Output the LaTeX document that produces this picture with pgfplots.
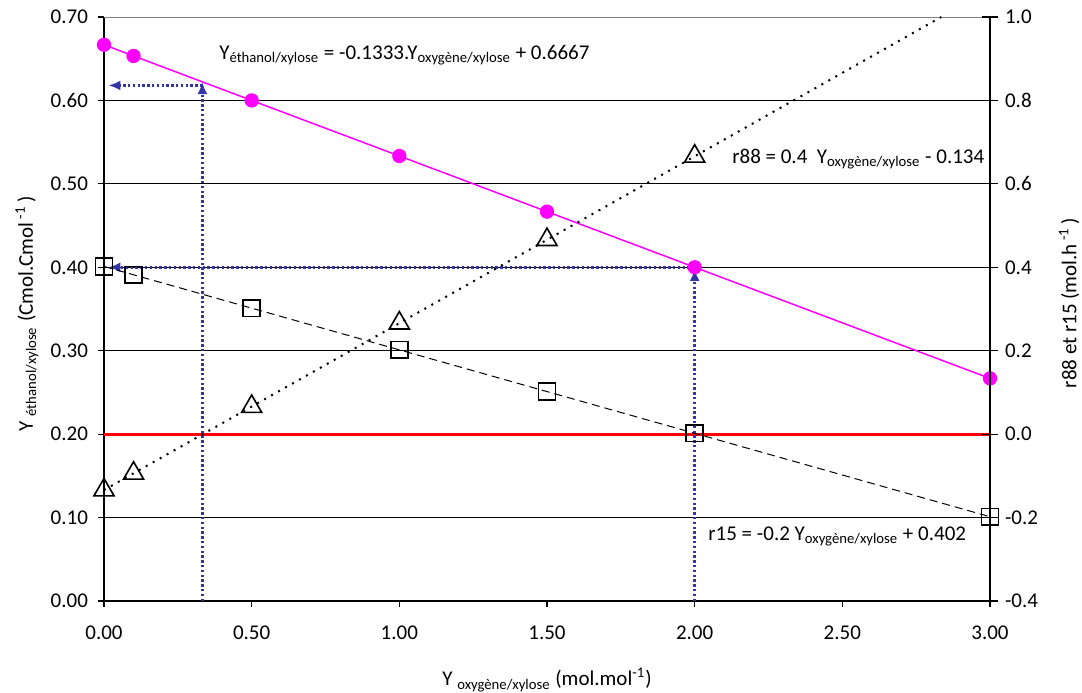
\documentclass[border=0pt]{standalone}
\usepackage{pgfplots}
\pgfplotsset{compat=1.18}
\usepackage{fontspec}
\setmainfont{Carlito}
\usetikzlibrary{arrows.meta,calc}
\definecolor{mag}{RGB}{255,0,255}
\definecolor{arrblue}{RGB}{51,51,170}
\begin{document}
\begin{tikzpicture}[font=\fontsize{10.5}{12.6}\selectfont]
\begin{axis}[
  scale only axis, width=443pt, height=292pt,
  xmin=0, xmax=3, ymin=0, ymax=0.7,
  axis x line*=bottom, axis y line*=left,
  axis line style={-, line width=0.8pt},
  xtick={0,0.5,1,1.5,2,2.5,3},
  ytick={0,0.1,0.2,0.3,0.4,0.5,0.6,0.7},
  tick align=outside, major tick length=3pt,
  tick style={black, line width=0.6pt},
  ymajorgrids, grid style={black, line width=0.5pt},
  xticklabel style={yshift=-6pt, /pgf/number format/fixed, /pgf/number format/fixed zerofill, /pgf/number format/precision=2, /pgf/number format/assume math mode=true},
  yticklabel style={xshift=-1.5pt, /pgf/number format/fixed, /pgf/number format/fixed zerofill, /pgf/number format/precision=2, /pgf/number format/assume math mode=true},
  clip=false,
]
\coordinate (bl) at (rel axis cs:0,0);
\coordinate (tr) at (rel axis cs:1,1);
\addplot[gray, line width=0.5pt] coordinates {(0,0.7) (3,0.7)};
\addplot[red, line width=1.5pt] coordinates {(0,0.2) (3,0.2)};
\addplot[mag, line width=0.75pt, mark=*, mark size=3.2pt, mark options={fill=mag, draw=mag}] coordinates {
  (0,0.6667) (0.1,0.6533) (0.5,0.6000) (1,0.5334) (1.5,0.4667) (2,0.4000) (3,0.2668)};
\addplot[arrblue, line width=1.3pt, dash pattern=on 1.2pt off 1.2pt, -{Latex[length=6pt,width=5pt]}] coordinates {(0.333,0) (0.333,0.622)};
\addplot[arrblue, line width=1.3pt, dash pattern=on 1.2pt off 1.2pt, -{Latex[length=6pt,width=5pt]}] coordinates {(0.333,0.618) (0.015,0.618)};
\addplot[arrblue, line width=1.3pt, dash pattern=on 1.2pt off 1.2pt, -{Latex[length=6pt,width=5pt]}] coordinates {(2,0) (2,0.398)};
\addplot[arrblue, line width=1.3pt, dash pattern=on 1.2pt off 1.2pt, -{Latex[length=6pt,width=5pt]}] coordinates {(2,0.400) (0.015,0.400)};
\node[anchor=west, inner sep=0pt] at (axis cs:0.389,0.654) {Y\textsubscript{éthanol/xylose} = -0.1333.Y\textsubscript{oxygène/xylose} + 0.6667};
\node[anchor=west, inner sep=0pt] at (axis cs:2.126,0.530) {r88 = 0.4\ \ Y\textsubscript{oxygène/xylose} - 0.134};
\node[anchor=west, inner sep=0pt] at (axis cs:2.045,0.077) {r15 = -0.2 Y\textsubscript{oxygène/xylose} + 0.402};
\end{axis}
\begin{axis}[
  scale only axis, width=443pt, height=292pt,
  xmin=0, xmax=3, ymin=-0.4, ymax=1.0,
  axis x line=none, axis y line*=right,
  axis line style={-, line width=0.8pt},
  ytick={-0.4,-0.2,0,0.2,0.4,0.6,0.8,1.0},
  tick align=center, major tick length=8pt,
  tick style={black, line width=0.6pt},
  yticklabel style={/pgf/number format/fixed, /pgf/number format/fixed zerofill, /pgf/number format/precision=1, /pgf/number format/assume math mode=true},
  clip=false,
]
\addplot[black, line width=1pt, dash pattern=on 1pt off 3pt, forget plot] coordinates {(0,-0.134) (2.835,1.0)};
\addplot[black, line width=0.5pt, dash pattern=on 4pt off 2.5pt, forget plot] coordinates {(0,0.402) (3,-0.198)};
\addplot[only marks, mark=triangle, mark size=5.8pt, mark options={black, solid, line width=0.8pt}] coordinates {
  (0,-0.134) (0.1,-0.094) (0.5,0.066) (1,0.266) (1.5,0.466) (2,0.666)};
\addplot[only marks, mark=square, mark size=4.2pt, mark options={black, solid, line width=0.8pt}] coordinates {
  (0,0.402) (0.1,0.382) (0.5,0.302) (1,0.202) (1.5,0.102) (2,0.002) (3,-0.198)};
\end{axis}
\node[rotate=90] at ($(bl)+(-38.5pt,143.5pt)$) {Y \textsubscript{éthanol/xylose} (Cmol.Cmol\,\textsuperscript{-1}\,)};
\node[rotate=90] at ($(tr)+(39.5pt,-143pt)$) {r88 et r15 (mol.h\,\textsuperscript{-1}\,)};
\node at ($(bl)+(221.5pt,-39.5pt)$) {Y \textsubscript{oxygène/xylose} (mol.mol\textsuperscript{-1})};
\pgfresetboundingbox
\path[use as bounding box] ($(bl)+(-52pt,-46pt)$) rectangle ($(tr)+(46pt,8.5pt)$);
\end{tikzpicture}
\end{document}
